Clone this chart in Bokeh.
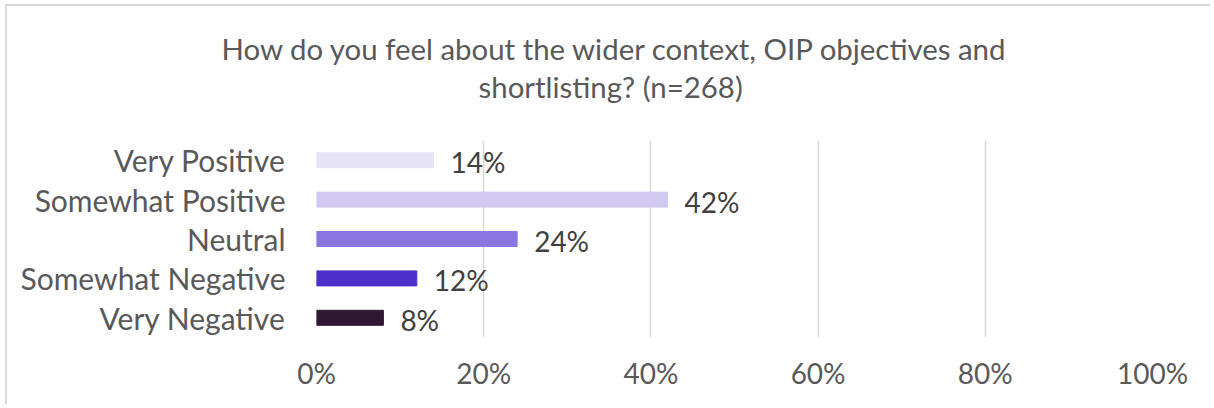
from bokeh.plotting import figure
from bokeh.models import FactorRange, Range1d, FixedTicker, PrintfTickFormatter, Title, ColumnDataSource
from bokeh.core.properties import value
from bokeh.embed import file_html
from bokeh.resources import INLINE

title_lines = ["How do you feel about the wider context, OIP objectives and", "shortlisting? (n=268)"]
categories = ["Very Positive", "Somewhat Positive", "Neutral", "Somewhat Negative", "Very Negative"]
values = [14, 42, 24, 12, 8]
colors = ["#E6E2F8", "#D1C9F0", "#8B76E0", "#4B30CC", "#301733"]
x_ticks = [0, 20, 40, 60, 80, 100]

FONT = "Lato"
TXT = "#595959"

W, H = 1205, 400
FL, FR, FT, FB = 309, 60, 134, 69
p = figure(width=W, height=H, output_backend="svg", toolbar_location=None,
           y_range=FactorRange(factors=list(reversed(categories)), range_padding=0),
           x_range=Range1d(0, 100),
           min_border_left=FL, min_border_right=FR, min_border_top=FT, min_border_bottom=FB)
p.styles = {"margin-left": "5px", "margin-top": "4px",
            "border-left": "2px solid #D9D9D9", "border-top": "2px solid #D9D9D9"}
p.outline_line_color = None
p.background_fill_color = "white"
p.border_fill_color = "white"

src = ColumnDataSource(dict(cat=categories, val=values, col=colors,
                            lab=[f"{v}%" for v in values]))
p.hbar(y="cat", right="val", left=0, height=0.38, color="col", source=src)
p.text(x="val", y="cat", text="lab", source=src, x_offset=17, y_offset=2,
       text_font=value(FONT), text_font_size="28px", text_color="#404040",
       text_baseline="middle", text_align="left")

p.xaxis.ticker = FixedTicker(ticks=x_ticks)
p.xaxis.formatter = PrintfTickFormatter(format="%d%%")
for ax in (p.xaxis, p.yaxis):
    ax.axis_line_color = None
    ax.major_tick_line_color = None
    ax.minor_tick_line_color = None
    ax.major_tick_out = 0
    ax.major_tick_in = 0
    ax.major_label_text_font = FONT
    ax.major_label_text_color = TXT
p.xaxis.major_label_text_font_size = "28px"
p.yaxis.major_label_text_font_size = "30px"
p.xaxis.major_label_standoff = 18
p.yaxis.major_label_standoff = 31

p.xgrid.grid_line_color = "#D9D9D9"
p.xgrid.grid_line_width = 1.5
p.ygrid.grid_line_color = None

# spacer between the frame and the two title lines
p.add_layout(Title(text=" ", text_font_size="10px", standoff=22), "above")
offsets = [-95, 162]
for t, off in reversed(list(zip(title_lines, offsets))):
    p.add_layout(Title(text=t, text_font=FONT, text_font_size="29.4px", text_color=TXT,
                       text_font_style="normal", align="left", offset=off,
                       vertical_align="middle", standoff=1), "above")

open("out.html", "w").write(file_html(p, INLINE))
